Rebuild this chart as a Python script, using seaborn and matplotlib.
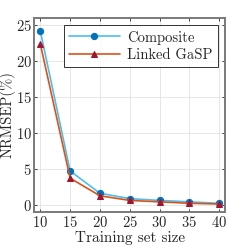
import matplotlib
matplotlib.use("Agg")
import matplotlib.pyplot as plt
import seaborn as sns
import pandas as pd

# --- Data ---
train_size = [10, 15, 20, 25, 30, 35, 40]
composite = [24.2, 4.7, 1.6, 0.85, 0.6, 0.4, 0.2]
linked_gasp = [22.4, 3.7, 1.25, 0.6, 0.4, 0.2, 0.1]

df = pd.DataFrame({
    "Training set size": train_size * 2,
    "NRMSEP": composite + linked_gasp,
    "Method": ["Composite"] * len(train_size) + ["Linked GaSP"] * len(train_size),
})

sns.set_theme(style="whitegrid")
plt.rcParams["font.family"] = ["cmr10", "DejaVu Serif"]
plt.rcParams["mathtext.fontset"] = "cm"
plt.rcParams["axes.formatter.use_mathtext"] = True

fig = plt.figure(figsize=(2.49, 2.49), dpi=100)
ax = fig.add_axes([0.138, 0.149, 0.766, 0.778])

styles = {
    "Composite": dict(color="#4DBEEE", marker="o", mfc="#0072BD", mec="#0072BD", ms=4.5),
    "Linked GaSP": dict(color="#D95319", marker="^", mfc="#A2142F", mec="#A2142F", ms=4.5),
}
for name, sub in df.groupby("Method"):
    st = styles[name]
    sns.lineplot(data=sub, x="Training set size", y="NRMSEP", ax=ax, label=name,
                 color=st["color"], marker=st["marker"], markersize=st["ms"],
                 markerfacecolor=st["mfc"], markeredgecolor=st["mec"], linewidth=1.2)

ax.set_xlim(9, 41)
ax.set_ylim(-1, 26)
ax.set_xticks(train_size)
ax.set_yticks([0, 5, 10, 15, 20, 25])
ax.set_xlabel("Training set size", fontsize=11, labelpad=1)
ax.set_ylabel("NRMSEP(%)", fontsize=10.5, labelpad=0)
ax.tick_params(labelsize=10.5, direction="in", length=2.5, width=0.6, color="#262626",
               top=True, right=True, bottom=True, left=True, pad=2)
ax.grid(True, color="#e3e3e3", linewidth=0.6)
ax.set_facecolor("white")
for sp in ax.spines.values():
    sp.set_color("#7a7a7a")
    sp.set_linewidth(1.4)

leg = ax.legend(loc="upper right", fontsize=10.5, frameon=True, fancybox=False,
                edgecolor="black", handlelength=3.5, borderpad=0.35, labelspacing=0.25,
                handletextpad=0.5, borderaxespad=0.5)
leg.get_frame().set_linewidth(0.7)

fig.savefig("out.png", dpi=100)
